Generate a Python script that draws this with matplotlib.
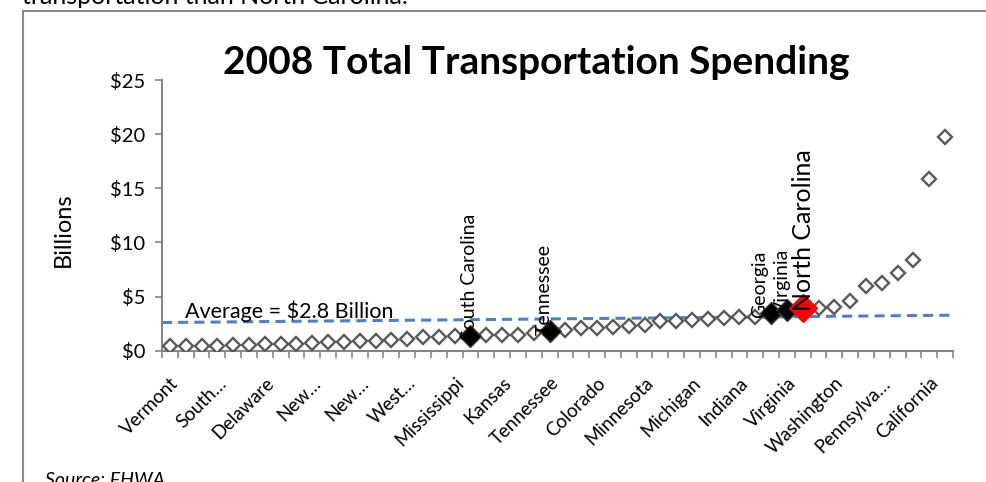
import matplotlib.pyplot as plt
from matplotlib.lines import Line2D
from matplotlib.ticker import FixedLocator, FuncFormatter

plt.rcParams['font.family'] = ['Lato', 'DejaVu Sans']

# 2008 total transportation spending by state, sorted, billions of dollars
spending = [
    0.40, 0.41, 0.47, 0.48, 0.53, 0.57, 0.60, 0.63, 0.64, 0.69,
    0.78, 0.80, 0.86, 0.93, 1.03, 1.12, 1.22, 1.29, 1.34, 1.38,
    1.42, 1.45, 1.47, 1.60, 1.86, 1.88, 2.06, 2.12, 2.22, 2.31,
    2.37, 2.75, 2.78, 2.83, 2.92, 3.06, 3.12, 3.15, 3.45, 3.78,
    3.90, 3.92, 4.04, 4.60, 6.00, 6.25, 7.18, 8.40, 15.88, 19.69,
]
# only every third category gets a label on the axis
tick_labels = ["Vermont", "South…", "Delaware", "New…", "New…", "West…",
               "Mississippi", "Kansas", "Tennessee", "Colorado", "Minnesota",
               "Michigan", "Indiana", "Virginia", "Washington", "Pennsylva…",
               "California"]
tick_step = 3

# neighbour states shown as filled markers
peer_names = ["South Carolina", "Tennessee", "Georgia", "Virginia"]
peer_idx = [19, 24, 38, 39]
nc_name = "North Carolina"
nc_idx = 40

# dashed "average" line, left and right end
avg_line = [2.60, 3.28]
avg_text = "Average = $2.8 Billion"

fig = plt.figure(figsize=(9.87, 4.82), dpi=100)
ax = fig.add_axes([162 / 987, 1 - 350.7 / 482, 791 / 987, 270.7 / 482])

x = list(range(len(spending)))
ax.plot([-0.5, len(spending) - 0.5], avg_line, color="#4F81BD", lw=2.2,
        dashes=(3.3, 2.0), zorder=2)

ax.plot(x, spending, ls="none", marker="D", ms=7, mfc="white",
        mec="#595959", mew=1.7, zorder=3)
ax.plot(peer_idx, [spending[i] for i in peer_idx], ls="none", marker="D",
        ms=11, mfc="black", mec="#404040", mew=1, zorder=4)
ax.plot([nc_idx], [spending[nc_idx]], ls="none", marker="D", ms=14.5,
        mfc="red", mec="red", zorder=5)

# labels sit on the markers, nudged sideways like the original
peer_dx = [-1, -4, -8.5, -3]
for name, i, dx in zip(peer_names, peer_idx, peer_dx):
    ax.annotate(name, (i, spending[i]), xytext=(dx, -3),
                textcoords="offset points", rotation=90, ha="center",
                va="bottom", fontsize=14, zorder=6)
ax.annotate(nc_name, (nc_idx, spending[nc_idx]), xytext=(0.7, -2),
            textcoords="offset points", rotation=90, ha="center",
            va="bottom", fontsize=18, zorder=6)

ax.text(0.95, 3.0, avg_text, fontsize=15.5, va="baseline", zorder=6)

ax.set_xlim(-0.5, len(spending) - 0.5)
ax.set_ylim(0, 25)
ax.set_yticks([0, 5, 10, 15, 20, 25])
ax.yaxis.set_major_formatter(FuncFormatter(lambda v, p: f"${v:.0f}"))

ax.set_xticks(range(0, len(spending), tick_step))
ax.set_xticklabels(tick_labels, rotation=45, ha="right",
                   rotation_mode="anchor", fontsize=13.5)
ax.xaxis.set_minor_locator(FixedLocator([k - 0.5 for k in range(len(spending) + 1)]))
ax.tick_params(axis="x", which="major", length=0, pad=17)
ax.tick_params(axis="x", which="minor", length=5, width=1.2, color="#868686")
ax.tick_params(axis="y", length=5, width=1.2, color="#868686",
               labelsize=14.5, pad=7)

for s in ["top", "right"]:
    ax.spines[s].set_visible(False)
for s in ["left", "bottom"]:
    ax.spines[s].set_color("#868686")
    ax.spines[s].set_linewidth(1.5)

fig.text(536 / 987, 1 - 62 / 482, "2008 Total Transportation Spending",
         fontsize=28, fontweight="bold", ha="center", va="center")
fig.text(63 / 987, 1 - 230 / 482, "Billions", rotation=90, fontsize=17,
         ha="center", va="center")
fig.text(45 / 987, 1 - 472 / 482, "Source: FHWA", fontsize=14,
         style="italic", va="top")
fig.text(22 / 987, 1 - 4 / 482, "transportation than North Carolina.",
         fontsize=18, va="baseline")

# slide frame
fig.add_artist(Line2D([23 / 987, 23 / 987], [0, 1 - 11 / 482],
                      transform=fig.transFigure, color="#8c8c8c", lw=1.5))
fig.add_artist(Line2D([23 / 987, 1], [1 - 11 / 482, 1 - 11 / 482],
                      transform=fig.transFigure, color="#8c8c8c", lw=1.5))

fig.savefig("out.png", dpi=100)
